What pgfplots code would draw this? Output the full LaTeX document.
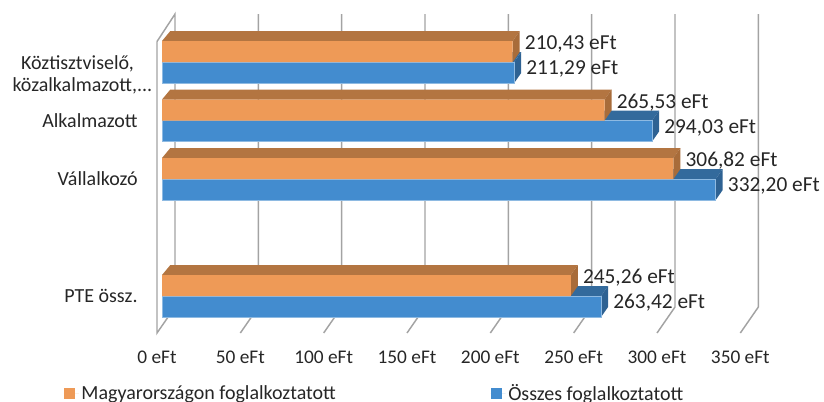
\documentclass[border=0pt]{standalone}
\usepackage{pgfplots}
\pgfplotsset{compat=1.18}
\usepackage{fontspec}
\setmainfont{Carlito}
\definecolor{oF}{HTML}{EE9A57}
\definecolor{oT}{HTML}{B37541}
\definecolor{oS}{HTML}{A86C3A}
\definecolor{bF}{HTML}{438CCF}
\definecolor{bT}{HTML}{336A9C}
\definecolor{bS}{HTML}{2E6293}
\definecolor{gr}{HTML}{A3A3A3}
\definecolor{txt}{HTML}{262626}
\begin{document}
\begin{tikzpicture}[x=1pt,y=1pt]
\path[use as bounding box] (0,0) rectangle (618,300.75);
\begin{axis}[
  at={(117.75pt,51pt)}, anchor=south west,
  scale only axis, width=441.25pt, height=239.2pt,
  xmin=-3, xmax=350, ymin=-0.632, ymax=4.82,
  clip=false,
  axis line style={draw=none}, tick style={draw=none},
  xtick={0,50,100,150,200,250,300,350},
  xticklabels={0 eFt,50 eFt,100 eFt,150 eFt,200 eFt,250 eFt,300 eFt,350 eFt},
  x tick label style={font=\fontsize{14.5}{16}\selectfont, text=txt, xshift=-3.75pt, yshift=-10.2pt},
  ytick={0,2,3,4},
  yticklabels={PTE össz.,Vállalkozó,Alkalmazott,{\raisebox{-22pt}[0pt][0pt]{\hbox{\shortstack[c]{Köztisztviselő,\kern7.5pt\\[0.75pt]közalkalmazott,...}\kern-11pt}}}},
  y tick label style={font=\fontsize{15}{16}\selectfont, text=txt, anchor=east, xshift=-11pt},
  /pgf/number format/assume math mode=true,
  legend columns=2,
  legend style={draw=none, fill=none, at={(axis cs:-61.5,-1.67)}, anchor=west,
     font=\fontsize{15}{16}\selectfont, text=txt,
     /tikz/every even column/.append style={column sep=114pt}},
  legend image code/.code={\fill[#1] (0pt,-4pt) rectangle (8.25pt,4pt); \path (0pt,0pt) -- (11.25pt,0pt);},
]
% gridlines and walls
\addplot[gr,line width=1.1pt,forget plot] coordinates {(-3,4.35)(7.8,4.82)(7.8,-0.188)(-3,-0.632)(-3,4.35)};
\addplot[gr,line width=1.1pt,forget plot] coordinates {(57.8,4.82)(57.8,-0.188)(47,-0.632)};
\addplot[gr,line width=1.1pt,forget plot] coordinates {(107.8,4.82)(107.8,-0.188)(97,-0.632)};
\addplot[gr,line width=1.1pt,forget plot] coordinates {(157.8,4.82)(157.8,-0.188)(147,-0.632)};
\addplot[gr,line width=1.1pt,forget plot] coordinates {(207.8,4.82)(207.8,-0.188)(197,-0.632)};
\addplot[gr,line width=1.1pt,forget plot] coordinates {(257.8,4.82)(257.8,-0.188)(247,-0.632)};
\addplot[gr,line width=1.1pt,forget plot] coordinates {(307.8,4.82)(307.8,-0.188)(297,-0.632)};
\addplot[gr,line width=1.1pt,forget plot] coordinates {(357.8,4.82)(357.8,-0.188)(347,-0.632)};
% blue tops and sides
\addplot[fill=bT,draw=none,forget plot] coordinates {(0,4)(5,4.171)(215.49,4.171)(211.29,4)} -- cycle;
\addplot[fill=bS,draw=none,forget plot] coordinates {(211.29,3.641)(215.49,3.812)(215.49,4.171)(211.29,4)} -- cycle;
\addplot[fill=bT,draw=none,forget plot] coordinates {(0,3)(5,3.171)(298.23,3.171)(294.03,3)} -- cycle;
\addplot[fill=bS,draw=none,forget plot] coordinates {(294.03,2.641)(298.23,2.812)(298.23,3.171)(294.03,3)} -- cycle;
\addplot[fill=bT,draw=none,forget plot] coordinates {(0,2)(5,2.171)(336.4,2.171)(332.2,2)} -- cycle;
\addplot[fill=bS,draw=none,forget plot] coordinates {(332.2,1.641)(336.4,1.812)(336.4,2.171)(332.2,2)} -- cycle;
\addplot[fill=bT,draw=none,forget plot] coordinates {(0,0)(5,0.171)(267.62,0.171)(263.42,0)} -- cycle;
\addplot[fill=bS,draw=none,forget plot] coordinates {(263.42,-0.359)(267.62,-0.188)(267.62,0.171)(263.42,0)} -- cycle;
% blue fronts
\addplot[xbar,bar width=15.75pt,bar shift=-7.875pt,fill=bF,draw=bF!60!white,line width=0.4pt,forget plot,
  point meta=x,nodes near coords={\pgfmathprintnumber[use comma,fixed,fixed zerofill,precision=2]{\pgfplotspointmeta}~eFt},
  every node near coord/.append style={font=\fontsize{16}{18}\selectfont,text=txt,anchor=west,inner sep=0pt,xshift=9pt,yshift=-5.3pt}]
  coordinates {(211.29,4)(294.03,3)(332.20,2)(263.42,0)};
% orange tops and sides
\addplot[fill=oT,draw=none,forget plot] coordinates {(0,4.359)(5,4.53)(214.63,4.53)(210.43,4.359)} -- cycle;
\addplot[fill=oS,draw=none,forget plot] coordinates {(210.43,4)(214.63,4.171)(214.63,4.53)(210.43,4.359)} -- cycle;
\addplot[fill=oT,draw=none,forget plot] coordinates {(0,3.359)(5,3.53)(269.73,3.53)(265.53,3.359)} -- cycle;
\addplot[fill=oS,draw=none,forget plot] coordinates {(265.53,3)(269.73,3.171)(269.73,3.53)(265.53,3.359)} -- cycle;
\addplot[fill=oT,draw=none,forget plot] coordinates {(0,2.359)(5,2.53)(311.02,2.53)(306.82,2.359)} -- cycle;
\addplot[fill=oS,draw=none,forget plot] coordinates {(306.82,2)(311.02,2.171)(311.02,2.53)(306.82,2.359)} -- cycle;
\addplot[fill=oT,draw=none,forget plot] coordinates {(0,0.359)(5,0.53)(249.46,0.53)(245.26,0.359)} -- cycle;
\addplot[fill=oS,draw=none,forget plot] coordinates {(245.26,0)(249.46,0.171)(249.46,0.53)(245.26,0.359)} -- cycle;
% orange fronts
\addplot[xbar,bar width=15.75pt,bar shift=7.875pt,fill=oF,draw=none,forget plot,
  point meta=x,nodes near coords={\pgfmathprintnumber[use comma,fixed,fixed zerofill,precision=2]{\pgfplotspointmeta}~eFt},
  every node near coord/.append style={font=\fontsize{16}{18}\selectfont,text=txt,anchor=west,inner sep=0pt,xshift=9pt,yshift=13.5pt}]
  coordinates {(210.43,4)(265.53,3)(306.82,2)(245.26,0)};
\addlegendimage{fill=oF,draw=none}
\addlegendentry{Magyarországon foglalkoztatott}
\addlegendimage{fill=bF,draw=none}
\addlegendentry{Összes foglalkoztatott}
\end{axis}
\end{tikzpicture}
\end{document}
